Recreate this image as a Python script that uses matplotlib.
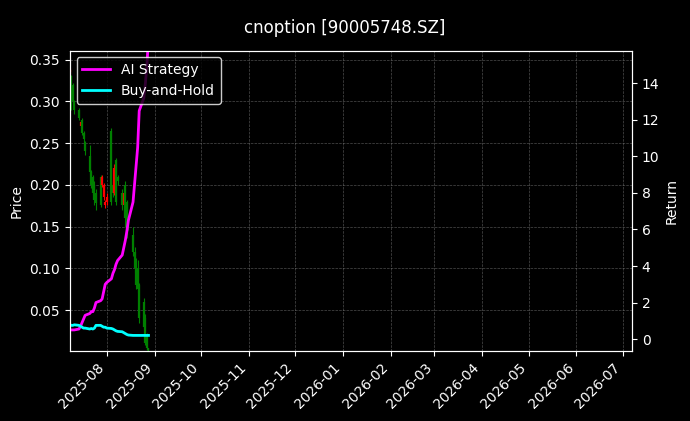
import matplotlib
matplotlib.use("Agg")
import matplotlib.pyplot as plt
import matplotlib.dates as mdates
import pandas as pd

dates = ["2025-07-08","2025-07-09","2025-07-10","2025-07-11","2025-07-14","2025-07-15","2025-07-16",
         "2025-07-17","2025-07-18","2025-07-21","2025-07-22","2025-07-23","2025-07-24","2025-07-25",
         "2025-07-28","2025-07-29","2025-07-30","2025-07-31","2025-08-01","2025-08-04","2025-08-05",
         "2025-08-06","2025-08-07","2025-08-08","2025-08-11","2025-08-12","2025-08-13","2025-08-14",
         "2025-08-15","2025-08-18","2025-08-19","2025-08-20","2025-08-21","2025-08-22","2025-08-25",
         "2025-08-26","2025-08-27","2025-08-28"]
opens  = [0.335,0.330,0.320,0.300,0.290,0.270,0.278,0.262,0.250,0.235,0.215,0.210,0.200,0.190,
          0.210,0.200,0.185,0.176,0.180,0.265,0.200,0.190,0.230,0.210,0.190,0.176,0.200,0.180,
          0.160,0.140,0.120,0.110,0.100,0.080,0.060,0.040,0.020,0.004]
closes = [0.338,0.310,0.300,0.290,0.280,0.275,0.262,0.255,0.240,0.215,0.200,0.190,0.182,0.178,
          0.176,0.210,0.200,0.180,0.186,0.180,0.190,0.220,0.180,0.205,0.176,0.190,0.160,0.140,
          0.150,0.120,0.100,0.080,0.075,0.040,0.030,0.010,0.004,0.002]
highs  = [0.340,0.332,0.322,0.302,0.292,0.278,0.280,0.264,0.252,0.248,0.218,0.212,0.205,0.195,
          0.212,0.212,0.202,0.182,0.190,0.268,0.205,0.225,0.232,0.212,0.195,0.196,0.205,0.182,
          0.162,0.150,0.125,0.112,0.110,0.082,0.064,0.045,0.022,0.005]
lows   = [0.333,0.290,0.298,0.285,0.278,0.268,0.260,0.250,0.236,0.212,0.196,0.188,0.176,0.170,
          0.174,0.198,0.182,0.172,0.176,0.176,0.186,0.188,0.176,0.200,0.170,0.170,0.150,0.136,
          0.146,0.115,0.095,0.075,0.070,0.035,0.028,0.008,0.002,0.001]
ai_ret = [0.5,0.5,0.5,0.5,0.55,0.7,0.9,1.1,1.3,1.4,1.5,1.5,1.7,2.0,2.1,2.2,2.6,3.0,3.1,3.3,3.6,
          3.8,4.1,4.3,4.6,5.0,5.4,5.9,6.5,7.5,8.5,9.5,10.5,12.5,13.2,14.0,15.0,16.5]
bh_ret = [0.8,0.75,0.75,0.78,0.75,0.7,0.65,0.6,0.6,0.55,0.58,0.55,0.6,0.75,0.75,0.7,0.65,0.65,
          0.6,0.58,0.55,0.5,0.45,0.42,0.4,0.35,0.3,0.25,0.22,0.2,0.2,0.2,0.2,0.2,0.2,0.2,0.2,0.2]

d = pd.to_datetime(dates)
fig = plt.figure(figsize=(6.9, 4.21), dpi=100, facecolor="black")
ax = fig.add_axes([0.101, 0.166, 0.815, 0.714], facecolor="black")
for i, t in enumerate(d):
    c = "red" if closes[i] >= opens[i] else "green"
    ax.vlines(t, lows[i], highs[i], color=c, lw=0.8)
    ax.vlines(t, min(opens[i], closes[i]), max(opens[i], closes[i]), color=c, lw=1.6)
ax.set_ylim(0.0008, 0.361)
ax.set_xlim(pd.Timestamp("2025-07-08"), pd.Timestamp("2026-07-07"))
ax.set_ylabel("Price", color="white")
ax.grid(True, color="gray", ls="--", lw=0.5, alpha=0.6)
ax.xaxis.set_major_locator(mdates.MonthLocator())
ax.xaxis.set_major_formatter(mdates.DateFormatter("%Y-%m"))
plt.setp(ax.get_xticklabels(), rotation=45, ha="right")

ax2 = ax.twinx()
ax2.plot(d, ai_ret, color="magenta", lw=2, label="AI Strategy")
ax2.plot(d, bh_ret, color="cyan", lw=2, label="Buy-and-Hold")
ax2.set_ylim(-0.66, 15.8)
ax2.set_ylabel("Return", color="white")
for a in (ax, ax2):
    a.tick_params(colors="white")
    for s in a.spines.values():
        s.set_color("white")
leg = ax2.legend(loc="upper left", facecolor="black", edgecolor="white", labelcolor="white")
fig.suptitle("cnoption [90005748.SZ]", color="white", y=0.955)
fig.savefig("out.png", dpi=100, facecolor="black")
